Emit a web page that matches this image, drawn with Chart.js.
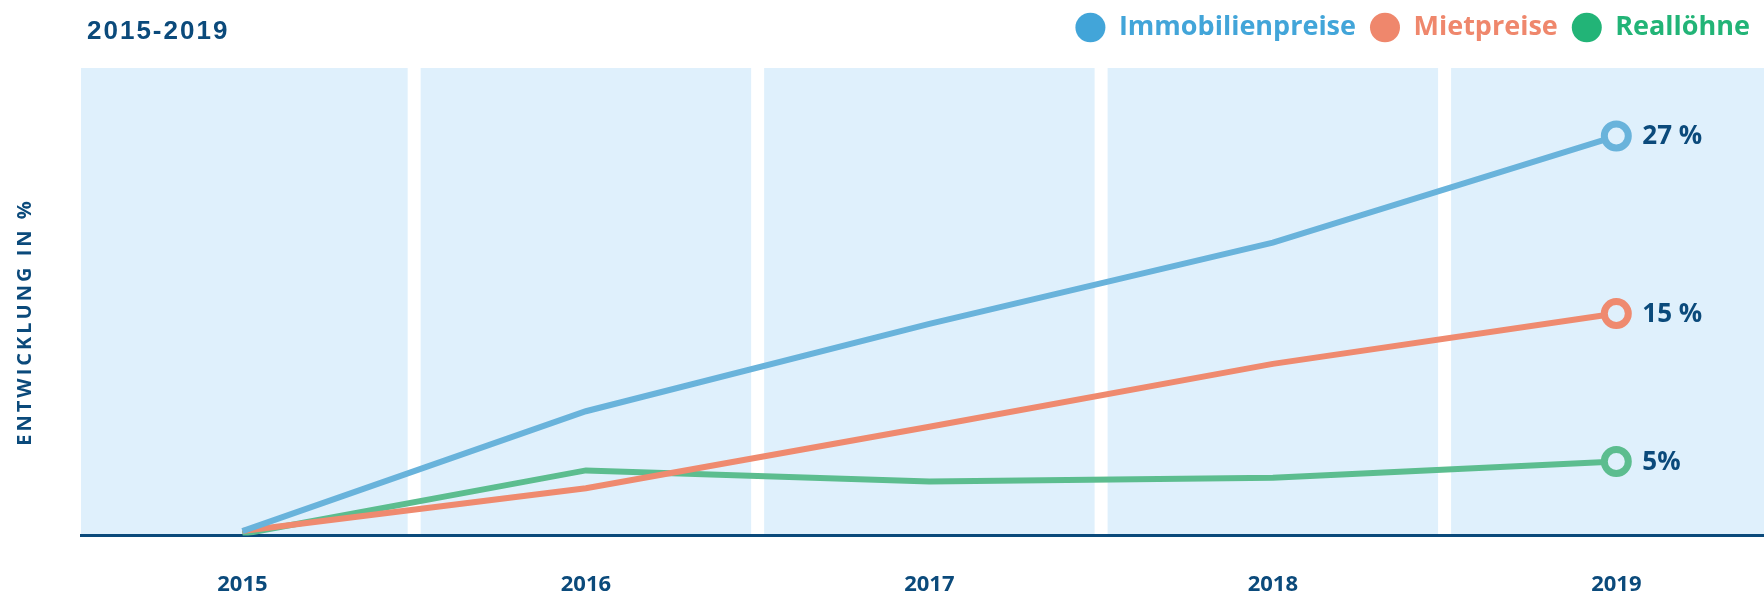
<!DOCTYPE html>
<html>
<head>
<meta charset="utf-8">
<script src="https://cdn.jsdelivr.net/npm/chart.js@4"></script>
<style>
  html, body { margin: 0; padding: 0; background: #fff; }
  #wrap { width: 1764px; height: 594px; }
</style>
</head>
<body>
<div id="wrap"><canvas id="grafico"></canvas></div>
<script>
const jahre = [2015, 2016, 2017, 2018, 2019];
const immobilienpreise = [0.3, 8.4, 14.3, 19.8, 27];
const mietpreise = [0.3, 3.2, 7.35, 11.6, 15];
const realloehne = [0.1, 4.4, 3.65, 3.9, 5];
const endLabels = ['27 %', '15 %', '5%'];
const titel = '2015-2019';
const achsenTitel = 'ENTWICKLUNG IN %';

const navy = '#0b4a7b';
const bandFarbe = '#dff0fc';

// legend row needs some air below it
const legendeAbstand = {
    id: 'legendeAbstand',
    beforeInit(chart) {
        const fitOriginal = chart.legend.fit;
        chart.legend.fit = function () {
            fitOriginal.bind(chart.legend)();
            this.height += 17;
        };
    }
};

const hintergrund = {
    id: 'hintergrund',
    beforeDraw(chart) {
        const { ctx, chartArea: a, scales: { x } } = chart;
        ctx.save();
        ctx.fillStyle = bandFarbe;
        jahre.forEach(j => {
            const l = Math.max(a.left, x.getPixelForValue(j - 0.5) + 6.5);
            const r = Math.min(a.right, x.getPixelForValue(j + 0.5) - 6.5);
            ctx.fillRect(l, a.top, r - l, a.bottom - a.top);
        });
        ctx.restore();
    }
};

const texte = {
    id: 'texte',
    afterDraw(chart) {
        const { ctx } = chart;
        ctx.save();
        ctx.fillStyle = navy;

        // Titel oben links
        ctx.font = 'bold 26px "Liberation Sans", Arial, sans-serif';
        ctx.letterSpacing = '2px';
        ctx.textAlign = 'left';
        ctx.textBaseline = 'alphabetic';
        ctx.fillText(titel, 87, 39);

        // Achsentitel links, gedreht
        ctx.save();
        ctx.translate(25, 322);
        ctx.rotate(-Math.PI / 2);
        ctx.font = 'bold 20px "Open Sans", sans-serif';
        ctx.letterSpacing = '3px';
        ctx.textAlign = 'center';
        ctx.textBaseline = 'middle';
        ctx.fillText(achsenTitel, 0, 0);
        ctx.restore();

        // Werte am Ende der Linien
        ctx.letterSpacing = '0px';
        ctx.font = 'bold 26px "Open Sans", sans-serif';
        ctx.textAlign = 'left';
        ctx.textBaseline = 'middle';
        chart.data.datasets.forEach((ds, i) => {
            const meta = chart.getDatasetMeta(i);
            const p = meta.data[meta.data.length - 1];
            ctx.fillText(endLabels[i], p.x + 26, p.y + 1);
        });
        ctx.restore();
    }
};

const letzterPunkt = (ctx) => ctx.dataIndex === jahre.length - 1 ? 12 : 0;

function linie(label, daten, farbe, legendFarbe) {
    return {
        label: label,
        data: daten,
        borderColor: farbe,
        backgroundColor: bandFarbe,
        legendColor: legendFarbe,
        borderWidth: 6,
        pointRadius: letzterPunkt,
        pointHoverRadius: letzterPunkt,
        pointBorderWidth: 7,
        pointBackgroundColor: bandFarbe,
        pointBorderColor: farbe,
        tension: 0
    };
}

const grafico = document.getElementById('grafico');
new Chart(grafico, {
    type: 'line',
    data: {
        labels: jahre,
        datasets: [
            linie('Immobilienpreise', immobilienpreise, '#69b3db', '#42a5d9'),
            linie('Mietpreise', mietpreise, '#ef8a6f', '#ef876c'),
            linie('Reallöhne', realloehne, '#5cbd8f', '#22b477')
        ]
    },
    options: {
        responsive: true,
        maintainAspectRatio: false,
        animation: false,
        layout: { autoPadding: false, padding: { left: 81, right: 0, top: 0, bottom: 0 } },
        plugins: {
            tooltip: { enabled: false },
            legend: {
                position: 'top',
                align: 'end',
                labels: {
                    usePointStyle: true,
                    pointStyleWidth: 30,
                    boxHeight: 21,
                    padding: 14,
                    font: { family: '"Open Sans", sans-serif', size: 27, weight: 'bold' },
                    generateLabels(chart) {
                        return chart.data.datasets.map((ds, i) => ({
                            text: ds.label,
                            fillStyle: ds.legendColor,
                            strokeStyle: ds.legendColor,
                            fontColor: ds.legendColor,
                            lineWidth: 0,
                            pointStyle: 'circle',
                            hidden: false,
                            datasetIndex: i
                        }));
                    }
                }
            }
        },
        scales: {
            x: {
                type: 'linear',
                min: 2014.53,
                max: 2019.43,
                grid: { display: false, drawTicks: false },
                border: { display: true, color: navy, width: 3 },
                afterBuildTicks(axis) {
                    axis.ticks = jahre.map(j => ({ value: j }));
                },
                afterFit(axis) {
                    axis.height = 58.5;
                },
                ticks: {
                    autoSkip: false,
                    maxRotation: 0,
                    padding: 36,
                    color: navy,
                    font: { family: '"Open Sans", sans-serif', size: 22, weight: 'bold' },
                    callback: (v) => String(v)
                }
            },
            y: {
                display: false,
                min: 0,
                max: 31.6
            }
        }
    },
    plugins: [legendeAbstand, hintergrund, texte]
});
</script>
</body>
</html>
